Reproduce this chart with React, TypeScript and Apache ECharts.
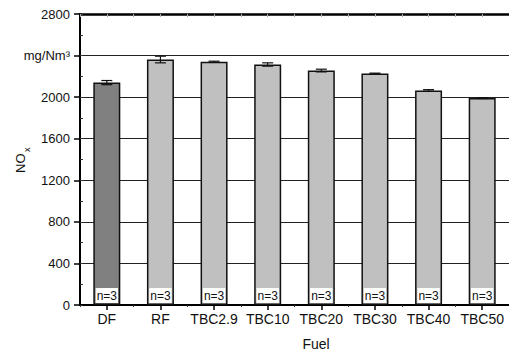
import React, { useEffect, useRef } from "react";
import * as echarts from "echarts";

const categories = ["DF", "RF", "TBC2.9", "TBC10", "TBC20", "TBC30", "TBC40", "TBC50"];
const noxValues = [2140, 2362, 2340, 2314, 2256, 2227, 2064, 1991];
const noxErrors = [20, 32, 6, 16, 13, 4, 8, 4];
const sampleCounts = [3, 3, 3, 3, 3, 3, 3, 3];
const barColors = ["#808080", "#c0c0c0", "#c0c0c0", "#c0c0c0", "#c0c0c0", "#c0c0c0", "#c0c0c0", "#c0c0c0"];
const yTicks = [0, 400, 800, 1200, 1600, 2000, 2400, 2800];
const unitLabel = "mg/Nm³";

const FONT = "'Liberation Sans', Arial, sans-serif";

export default function App() {
  const ref = useRef<HTMLDivElement>(null);

  useEffect(() => {
    if (!ref.current) return;
    const chart = echarts.init(ref.current, undefined, { renderer: "svg" });
    const errData = noxValues.map((v, i) => [i, v - noxErrors[i], v + noxErrors[i]]);
    const option: any = {
      animation: false,
      backgroundColor: "#ffffff",
      grid: { left: 80, top: 14, width: 432, height: 291, containLabel: false },
      xAxis: [
        {
          type: "category",
          data: categories,
          position: "bottom",
          axisLine: { show: true, lineStyle: { color: "#000", width: 2 } },
          axisTick: { show: true, alignWithLabel: true, length: 5, lineStyle: { color: "#000", width: 1.5 } },
          axisLabel: { color: "#111", fontSize: 14, fontFamily: FONT, margin: 7, interval: 0 },
          splitLine: { show: false },
        },
        {
          type: "category",
          data: categories,
          position: "bottom",
          axisLine: { show: false },
          axisTick: { show: true, length: 2, lineStyle: { color: "#333", width: 1 } },
          axisLabel: { show: false },
          splitLine: { show: false },
        },
        {
          type: "value",
          position: "top",
          min: 0,
          max: 16,
          interval: 1,
          axisLine: { show: true, lineStyle: { color: "#000", width: 2.5 } },
          axisTick: { show: true, inside: true, length: 3, lineStyle: { color: "#aaa", width: 1 } },
          axisLabel: { show: false },
          splitLine: { show: false },
        },
      ],
      yAxis: [
        {
          type: "value",
          min: 0,
          max: 2800,
          interval: 400,
          axisLine: { show: true, lineStyle: { color: "#000", width: 2 } },
          axisTick: { show: true, length: 6, lineStyle: { color: "#000", width: 1.5 } },
          axisLabel: {
            color: "#111",
            fontSize: 13,
            fontFamily: FONT,
            margin: 10,
            formatter: (v: number) => (v === yTicks[6] ? unitLabel : String(v)),
          },
          splitLine: { show: true, lineStyle: { color: "#222", width: 1 } },
        },
        {
          type: "value",
          min: 0,
          max: 2800,
          interval: 200,
          position: "left",
          axisLine: { show: false },
          axisTick: { show: true, inside: true, length: 3, lineStyle: { color: "#333", width: 1 } },
          axisLabel: { show: false },
          splitLine: { show: false },
        },
      ],
      series: [
        {
          type: "bar",
          xAxisIndex: 0,
          yAxisIndex: 0,
          barWidth: 27,
          data: noxValues.map((v, i) => ({
            value: v,
            itemStyle: { color: barColors[i], borderColor: "#111", borderWidth: 1.5 },
          })),
          label: {
            show: true,
            position: "insideBottom",
            distance: 2,
            formatter: (p: any) => "n=" + sampleCounts[p.dataIndex],
            color: "#111",
            fontSize: 12,
            fontFamily: FONT,
            backgroundColor: "#ffffff",
            padding: [1, 1, 0, 1],
            lineHeight: 14,
          },
          z: 2,
        },
        {
          type: "custom",
          xAxisIndex: 0,
          yAxisIndex: 0,
          encode: { x: 0, y: [1, 2] },
          data: errData,
          z: 5,
          renderItem: (params: any, api: any) => {
            const i = api.value(0);
            const lo = api.coord([i, api.value(1)]);
            const hi = api.coord([i, api.value(2)]);
            const hw = 5.5;
            const style = { stroke: "#111", lineWidth: 1.2 };
            return {
              type: "group",
              children: [
                { type: "line", shape: { x1: lo[0], y1: lo[1], x2: hi[0], y2: hi[1] }, style },
                { type: "line", shape: { x1: lo[0] - hw, y1: lo[1], x2: lo[0] + hw, y2: lo[1] }, style },
                { type: "line", shape: { x1: hi[0] - hw, y1: hi[1], x2: hi[0] + hw, y2: hi[1] }, style },
              ],
            };
          },
        },
      ],
      graphic: [
        {
          type: "group",
          x: 20,
          y: 173,
          rotation: Math.PI / 2,
          children: [
            {
              type: "text",
              x: 0,
              y: 0,
              style: { text: "NO", fontSize: 13, fontFamily: FONT, fill: "#111", textAlign: "left", textVerticalAlign: "middle" },
            },
            {
              type: "text",
              x: 21,
              y: 7,
              style: { text: "x", fontSize: 9, fontFamily: FONT, fill: "#111", textAlign: "left", textVerticalAlign: "middle" },
            },
          ],
        },
        {
          type: "text",
          x: 316,
          y: 344,
          style: { text: "Fuel", fontSize: 14, fontFamily: FONT, fill: "#111", textAlign: "center", textVerticalAlign: "middle" },
        },
      ],
    };
    chart.setOption(option);
    return () => chart.dispose();
  }, []);

  return <div ref={ref} style={{ position: "fixed", left: 0, top: 0, width: 509, height: 351 }} />;
}
